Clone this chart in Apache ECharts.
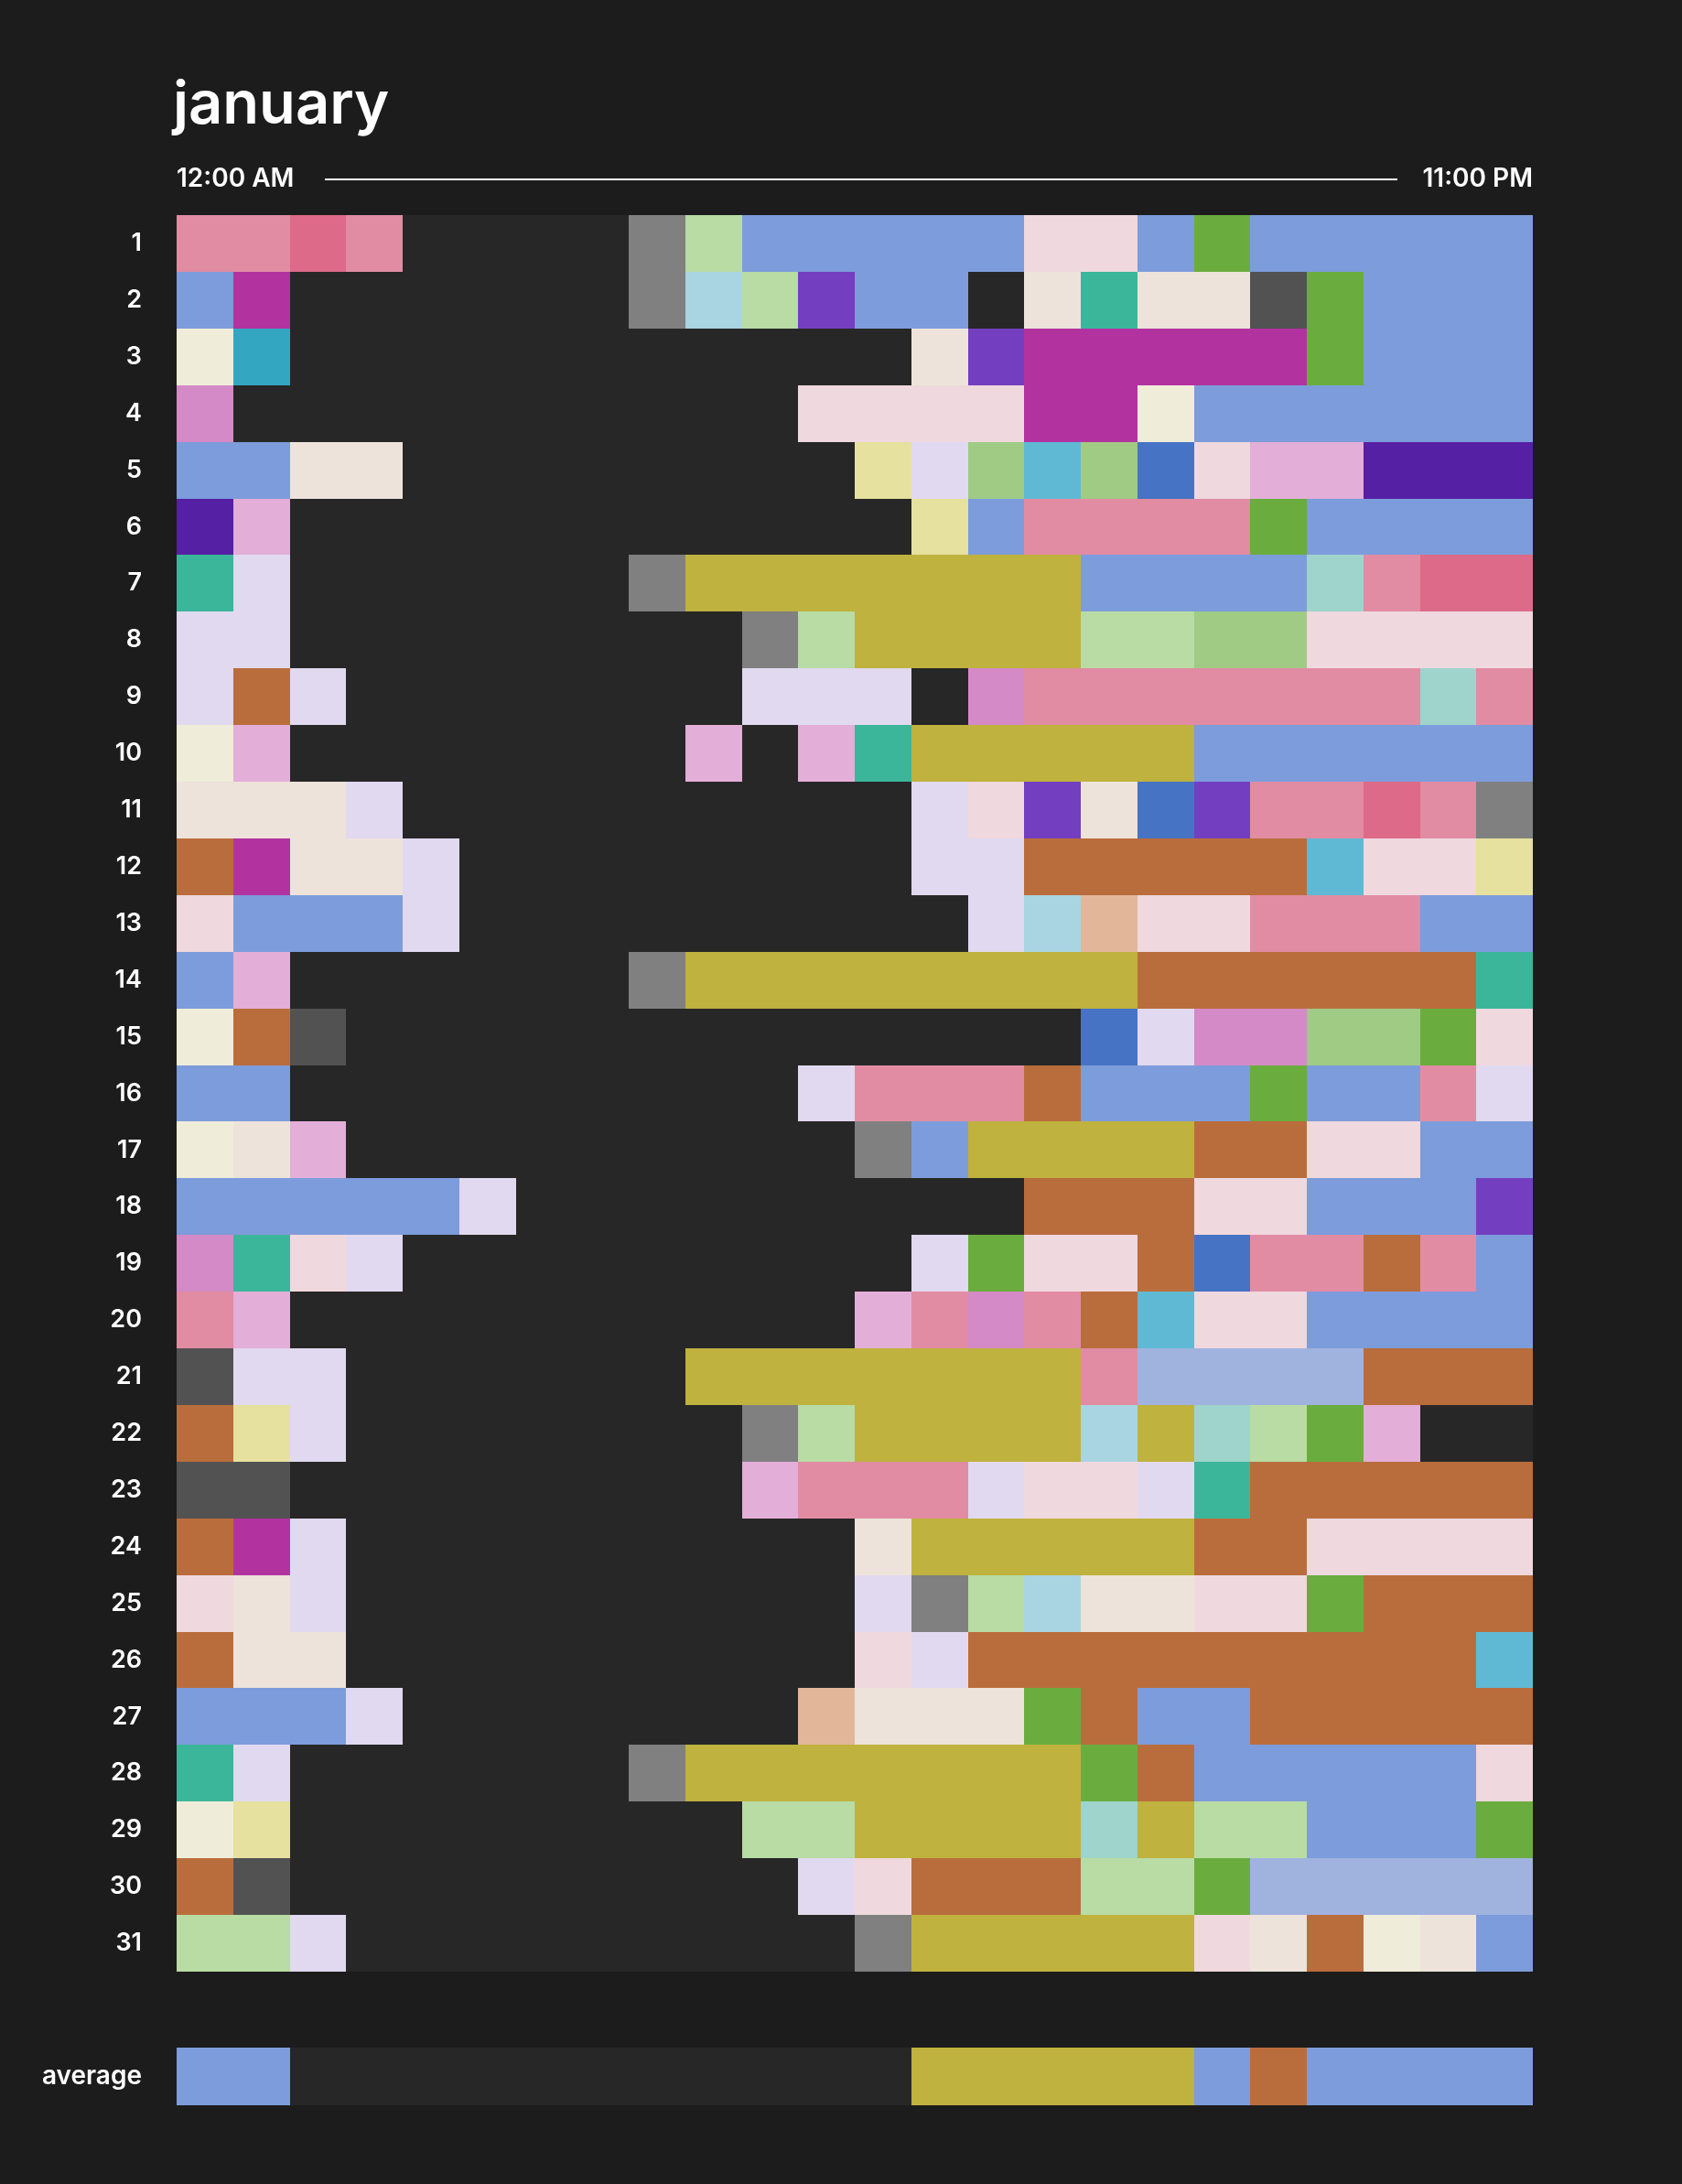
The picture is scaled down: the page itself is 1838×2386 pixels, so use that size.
<!DOCTYPE html>
<html><head><meta charset="utf-8">
<script src="https://cdn.jsdelivr.net/npm/echarts@6/dist/echarts.min.js"></script>
<style>html,body{margin:0;padding:0;background:#1c1c1c}#c{width:1838px;height:2386px}</style>
</head><body><div id="c"></div>
<script>
const monthTitle = 'january';
const hourLabels = ['12:00 AM','1:00 AM','2:00 AM','3:00 AM','4:00 AM','5:00 AM','6:00 AM','7:00 AM','8:00 AM','9:00 AM','10:00 AM','11:00 AM',
  '12:00 PM','1:00 PM','2:00 PM','3:00 PM','4:00 PM','5:00 PM','6:00 PM','7:00 PM','8:00 PM','9:00 PM','10:00 PM','11:00 PM'];
const dayLabels = ['1','2','3','4','5','6','7','8','9','10','11','12','13','14','15','16','17','18','19','20','21','22','23','24','25','26','27','28','29','30','31'];
const averageLabel = ['average'];
// activity codes ('K' = no activity, left empty) and their colours
const activityCodes  = ['P','H','G','L','B','W','N','A','V','D','T','E','M','C','F','O','I','Y','R','S','U','Q','X','Z','J','b','p','w'];
const activityColors = ['#e18ca3','#dd6a88','#808080','#b8dca3','#7d9cdb','#efd8de','#6aad3e','#a9d4e1','#733fc0','#525252','#3cb69b','#ede3da','#b233a0','#33a7c2',
  '#efedd9','#d48ac6','#e1d9ef','#e6e19e','#9fcb85','#60b9d4','#4773c4','#e3aed8','#5620a4','#bfb23e','#9ed4cb','#ba6d3c','#e2b699','#a0b3de'];
// one string per day, one letter per hour
const dayActivities = [
  'PPHPKKKKGLBBBBBWWBNBBBBB',
  'BMKKKKKKGALVBBKETEEDNBBB',
  'FCKKKKKKKKKKKEVMMMMMNBBB',
  'OKKKKKKKKKKWWWWMMFBBBBBB',
  'BBEEKKKKKKKKYIRSRUWQQXXX',
  'XQKKKKKKKKKKKYBPPPPNBBBB',
  'TIKKKKKKGZZZZZZZBBBBJPHH',
  'IIKKKKKKKKGLZZZZLLRRWWWW',
  'IbIKKKKKKKIIIKOPPPPPPPJP',
  'FQKKKKKKKQKQTZZZZZBBBBBB',
  'EEEIKKKKKKKKKIWVEUVPPHPG',
  'bMEEIKKKKKKKKIIbbbbbSWWY',
  'WBBBIKKKKKKKKKIApWWPPPBB',
  'BQKKKKKKGZZZZZZZZbbbbbbT',
  'FbDKKKKKKKKKKKKKUIOORRNW',
  'BBKKKKKKKKKIPPPbBBBNBBPI',
  'FEQKKKKKKKKKGBZZZZbbWWBB',
  'BBBBBIKKKKKKKKKbbbWWBBBV',
  'OTWIKKKKKKKKKINWWbUPPbPB',
  'PQKKKKKKKKKKQPOPbSWWBBBB',
  'DIIKKKKKKZZZZZZZPwwwwbbb',
  'bYIKKKKKKKGLZZZZAZJLNQKK',
  'DDKKKKKKKKQPPPIWWITbbbbb',
  'bMIKKKKKKKKKEZZZZZbbWWWW',
  'WEIKKKKKKKKKIGLAEEWWNbbb',
  'bEEKKKKKKKKKWIbbbbbbbbbS',
  'BBBIKKKKKKKpEEENbBBbbbbb',
  'TIKKKKKKGZZZZZZZNbBBBBBW',
  'FYKKKKKKKKLLZZZZJZLLBBBN',
  'bDKKKKKKKKKIWbbbLLNwwwww',
  'LLIKKKKKKKKKGZZZZZWEbFEB'
];
const averageActivities = 'BBKKKKKKKKKKKZZZZZBbBBBB';

function toCells(rows) {
  const out = [];
  rows.forEach((row, d) => {
    for (let h = 0; h < row.length; h++) {
      const k = activityCodes.indexOf(row[h]);
      if (k >= 0) out.push([h, d, k]);
    }
  });
  return out;
}
const mainCells = toCells(dayActivities);
const avgCells = toCells([averageActivities]);

const FONT = 'Inter, "Noto Sans", sans-serif';
function renderCell(params, api) {
  const c = api.coord([api.value(0), api.value(1)]);
  const s = api.size([1, 1]);
  const x0 = Math.round(c[0] - s[0] / 2), x1 = Math.round(c[0] + s[0] / 2);
  const y0 = Math.round(c[1] - s[1] / 2), y1 = Math.round(c[1] + s[1] / 2);
  return {
    type: 'rect',
    shape: { x: x0, y: y0, width: x1 - x0, height: y1 - y0 },
    style: { fill: activityColors[api.value(2)] }
  };
}
const yLabel = { color: '#ffffff', fontSize: 27, fontWeight: 600, fontFamily: FONT, margin: 38 };

const chart = echarts.init(document.getElementById('c'), null, { renderer: 'canvas' });
chart.setOption({
  backgroundColor: '#1c1c1c',
  animation: false,
  grid: [
    { left: 193, top: 235, width: 1482, height: 1919, show: true, backgroundColor: '#272727', borderWidth: 0 },
    { left: 193, top: 2237, width: 1482, height: 63, show: true, backgroundColor: '#272727', borderWidth: 0 }
  ],
  xAxis: [
    { type: 'category', data: hourLabels, gridIndex: 0, show: false },
    { type: 'category', data: hourLabels, gridIndex: 1, show: false }
  ],
  yAxis: [
    { type: 'category', data: dayLabels, gridIndex: 0, inverse: true, axisLine: { show: false }, axisTick: { show: false }, splitLine: { show: false }, axisLabel: yLabel },
    { type: 'category', data: averageLabel, gridIndex: 1, axisLine: { show: false }, axisTick: { show: false }, splitLine: { show: false }, axisLabel: Object.assign({}, yLabel, { fontSize: 28 }) }
  ],
  series: [
    { type: 'custom', xAxisIndex: 0, yAxisIndex: 0, data: mainCells, encode: { x: 0, y: 1 }, renderItem: renderCell },
    { type: 'custom', xAxisIndex: 1, yAxisIndex: 1, data: avgCells, encode: { x: 0, y: 1 }, renderItem: renderCell }
  ],
  graphic: [
    { type: 'text', x: 189, y: 115, style: { text: monthTitle, fill: '#ffffff', font: '600 65px ' + FONT, verticalAlign: 'middle', align: 'left' } },
    { type: 'text', x: 193, y: 196, style: { text: hourLabels[0], fill: '#ffffff', font: '600 28px ' + FONT, verticalAlign: 'middle', align: 'left' } },
    { type: 'text', x: 1675, y: 196, style: { text: hourLabels[hourLabels.length - 1], fill: '#ffffff', font: '600 28px ' + FONT, verticalAlign: 'middle', align: 'right' } },
    { type: 'line', shape: { x1: 355, y1: 196, x2: 1527, y2: 196 }, style: { stroke: '#ffffff', lineWidth: 2 } }
  ]
});
</script></body></html>
